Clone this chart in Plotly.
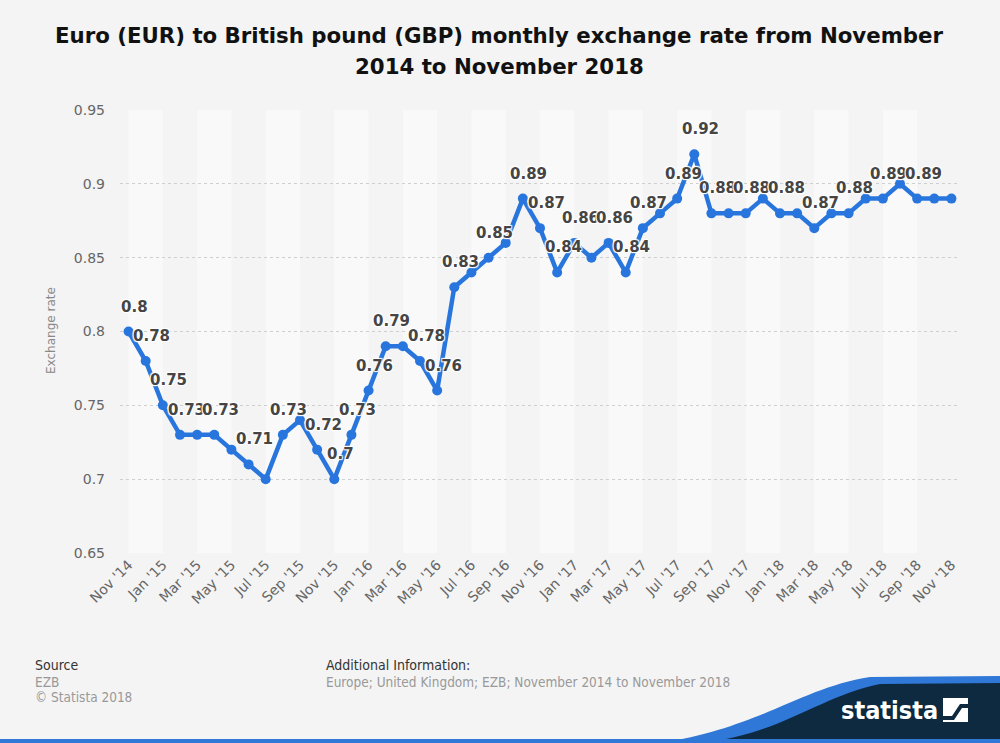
import plotly.graph_objects as go

# ---------------- data ----------------
months = ["Nov '14", "Dec '14", "Jan '15", "Feb '15", "Mar '15", "Apr '15", "May '15", "Jun '15",
          "Jul '15", "Aug '15", "Sep '15", "Oct '15", "Nov '15", "Dec '15", "Jan '16", "Feb '16",
          "Mar '16", "Apr '16", "May '16", "Jun '16", "Jul '16", "Aug '16", "Sep '16", "Oct '16",
          "Nov '16", "Dec '16", "Jan '17", "Feb '17", "Mar '17", "Apr '17", "May '17", "Jun '17",
          "Jul '17", "Aug '17", "Sep '17", "Oct '17", "Nov '17", "Dec '17", "Jan '18", "Feb '18",
          "Mar '18", "Apr '18", "May '18", "Jun '18", "Jul '18", "Aug '18", "Sep '18", "Oct '18",
          "Nov '18"]
rates = [0.80, 0.78, 0.75, 0.73, 0.73, 0.73, 0.72, 0.71, 0.70, 0.73,
         0.74, 0.72, 0.70, 0.73, 0.76, 0.79, 0.79, 0.78, 0.76, 0.83,
         0.84, 0.85, 0.86, 0.89, 0.87, 0.84, 0.86, 0.85, 0.86, 0.84,
         0.87, 0.88, 0.89, 0.92, 0.88, 0.88, 0.88, 0.89, 0.88, 0.88,
         0.87, 0.88, 0.88, 0.89, 0.89, 0.90, 0.89, 0.89, 0.89]
# months whose data label is visible in the original
labeled_months = ["Nov '14", "Dec '14", "Jan '15", "Feb '15", "Apr '15", "Jun '15", "Aug '15",
                  "Oct '15", "Nov '15", "Dec '15", "Jan '16", "Feb '16", "Apr '16", "May '16",
                  "Jun '16", "Aug '16", "Oct '16", "Nov '16", "Dec '16", "Jan '17", "Mar '17",
                  "Apr '17", "May '17", "Jul '17", "Aug '17", "Sep '17", "Nov '17", "Jan '18",
                  "Mar '18", "May '18", "Jul '18", "Sep '18"]
tick_labels = months[::2]
y_ticks = [0.65, 0.7, 0.75, 0.8, 0.85, 0.9, 0.95]

title_line1 = "Euro (EUR) to British pound (GBP) monthly exchange rate from November"
title_line2 = "2014 to November 2018"

# ---------------- layout geometry ----------------
W, H = 1000, 743
L, R, T, B = 120, 40, 110, 190
PW, PH = W - L - R, H - T - B


def px(x):
    return (x - L) / PW


def py(y):
    return (H - B - y) / PH


BLUE = "#2876dd"
NAVY = "#0e2a40"
fig = go.Figure()

fig.add_trace(go.Scatter(
    x=months, y=rates, mode="lines+markers",
    line=dict(color=BLUE, width=4.5),
    marker=dict(color=BLUE, size=10),
    hoverinfo="x+y", showlegend=False,
))

shapes = []
# alternating bands
for i in range(0, len(months) - 1, 4):
    shapes.append(dict(type="rect", xref="x", yref="paper", x0=i, x1=i + 2, y0=0, y1=1,
                       fillcolor="#f9f9f9", line=dict(width=0), layer="below"))

# statista logo swoosh
shapes.append(dict(type="path", xref="paper", yref="paper",
                   path=f"M {px(660)},{py(743)} C {px(760)},{py(728)} {px(800)},{py(688)} {px(870)},{py(677)} "
                        f"L {px(1000)},{py(676)} L {px(1000)},{py(743)} Z",
                   fillcolor="#2f78d8", line=dict(width=0), layer="above"))
shapes.append(dict(type="path", xref="paper", yref="paper",
                   path=f"M {px(700)},{py(743)} C {px(780)},{py(735)} {px(820)},{py(696)} {px(880)},{py(684)} "
                        f"L {px(1000)},{py(683)} L {px(1000)},{py(743)} Z",
                   fillcolor=NAVY, line=dict(width=0), layer="above"))
# bottom stripe
shapes.append(dict(type="rect", xref="paper", yref="paper", x0=px(0), x1=px(1000), y0=py(743), y1=py(739),
                   fillcolor="#2f78d8", line=dict(width=0), layer="above"))
# logo icon
shapes.append(dict(type="rect", xref="paper", yref="paper", x0=px(943), x1=px(968), y0=py(722), y1=py(698),
                   fillcolor="white", line=dict(width=0), layer="above"))
shapes.append(dict(type="path", xref="paper", yref="paper",
                   path=f"M {px(943)},{py(716)} L {px(952)},{py(716)} L {px(960)},{py(704)} L {px(968)},{py(704)} "
                        f"L {px(968)},{py(708)} L {px(962)},{py(708)} L {px(954)},{py(720)} L {px(943)},{py(720)} Z",
                   fillcolor=NAVY, line=dict(width=0), layer="above"))

annotations = []
halo = "1px 1px 1px white, -1px -1px 1px white, 1px -1px 1px white, -1px 1px 1px white"
for m, v in zip(months, rates):
    if m in labeled_months:
        annotations.append(dict(x=m, y=v, xref="x", yref="y", text=f"{v:g}", showarrow=False,
                                xshift=6, yshift=25,
                                font=dict(family="DejaVu Sans", size=15, color="#454545",
                                          weight="bold", shadow=halo)))

# titles
for txt, yy in [(title_line1, 35), (title_line2, 67)]:
    annotations.append(dict(x=px(499), y=py(yy), xref="paper", yref="paper", text=txt,
                            showarrow=False, xanchor="center", yanchor="middle",
                            font=dict(family="DejaVu Sans", size=21.3, color="#111111", weight="bold")))

# y axis title
annotations.append(dict(x=px(51), y=py(331), xref="paper", yref="paper", text="Exchange rate",
                        textangle=-90, showarrow=False, xanchor="center", yanchor="middle",
                        font=dict(family="DejaVu Sans", size=12, color="#888888")))

# footer
foot = "DejaVu Sans Condensed, DejaVu Sans"
footer = [
    ("Source", 33, 665, "#333333", 14),
    ("EZB", 33, 682, "#999999", 13.5),
    ("© Statista 2018", 33, 697, "#999999", 13.5),
    ("Additional Information:", 324, 665, "#333333", 14),
    ("Europe; United Kingdom; EZB; November 2014 to November 2018", 324, 682, "#999999", 13.5),
]
for txt, xx, yy, col, sz in footer:
    annotations.append(dict(x=px(xx), y=py(yy), xref="paper", yref="paper", text=txt,
                            showarrow=False, xanchor="left", yanchor="middle",
                            font=dict(family=foot, size=sz, color=col)))

annotations.append(dict(x=px(889), y=py(710), xref="paper", yref="paper", text="statista",
                        showarrow=False, xanchor="center", yanchor="middle",
                        font=dict(family="DejaVu Sans Condensed, DejaVu Sans", size=25, color="white",
                                  weight="bold")))

fig.update_layout(
    width=W, height=H,
    margin=dict(l=L, r=R, t=T, b=B),
    paper_bgcolor="#f4f4f4", plot_bgcolor="#f4f4f4",
    shapes=shapes, annotations=annotations,
    showlegend=False,
    xaxis=dict(type="category", range=[-0.5, len(months) - 0.5],
               tickmode="array", tickvals=tick_labels, ticktext=tick_labels,
               tickangle=-45, showgrid=False, showline=False, zeroline=False,
               ticks="", tickfont=dict(family="DejaVu Sans", size=14, color="#666666")),
    yaxis=dict(range=[0.65, 0.95], tickmode="array", tickvals=y_ticks,
               ticktext=[f"{t:g}" for t in y_ticks],
               showgrid=True, gridcolor="#cfcfcf", griddash="dot", gridwidth=1,
               zeroline=False, showline=False, ticks="", ticklabelstandoff=14,
               tickfont=dict(family="DejaVu Sans", size=14, color="#666666")),
)

fig.write_html("out.html", config={"displayModeBar": False},
               post_script="document.body.style.margin='0';document.body.style.overflow='hidden';")
